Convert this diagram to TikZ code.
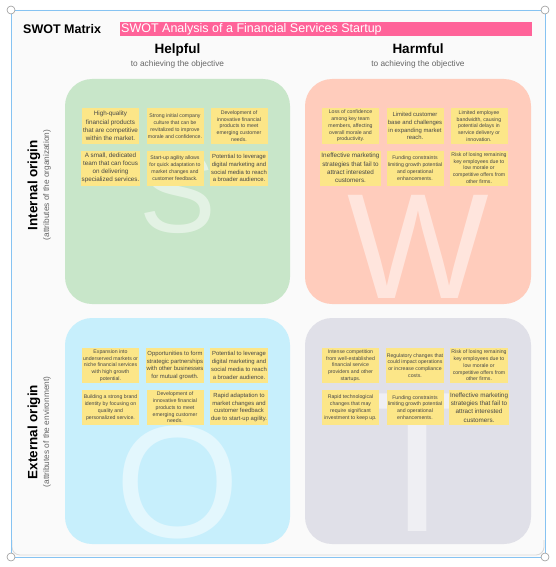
\documentclass[tikz,border=0pt]{standalone}
\usepackage{fontspec}
\setmainfont{Liberation Sans}
\definecolor{cardbg}{HTML}{FAFAFA}
\definecolor{framecol}{HTML}{86C3F2}
\definecolor{titlepink}{HTML}{FF6399}
\definecolor{notey}{HTML}{FCE688}
\definecolor{sgreen}{HTML}{C8E6C9}
\definecolor{wred}{HTML}{FFCCBC}
\definecolor{oblue}{HTML}{C7EFFC}
\definecolor{tgray}{HTML}{E0E0E8}
\newcommand\notebig{\fontsize{6.3}{8.2}\selectfont}
\newcommand\notemid{\fontsize{5.9}{7.8}\selectfont}
\newcommand\notesml{\fontsize{5.2}{6.8}\selectfont}
\tikzset{
  note/.style={fill=notey, minimum width=57pt, minimum height=35pt,
    inner sep=1pt, align=center, text=black!72},
  quad/.style={rounded corners=27pt},
  bigletter/.style={anchor=base, inner sep=0pt, text depth=0pt, text=white, text opacity=0.5,
    font=\fontsize{#1}{#1}\selectfont},
  head/.style={inner sep=0pt, font=\bfseries\fontsize{13.5}{16}\selectfont},
  sidehead/.style={rotate=90, inner sep=0pt, font=\bfseries\fontsize{13.5}{16}\selectfont},
  subhead/.style={inner sep=0pt, text=black!60, font=\fontsize{8.3}{10}\selectfont},
  handle/.style={draw=black!40, fill=white, line width=0.6pt}
}
\begin{document}
\begin{tikzpicture}[x=1pt, y=-1pt]
  \useasboundingbox (0,0) rectangle (555,567);
  \fill[cardbg, rounded corners=8pt] (11,10) rectangle (545,557);
  \draw[black!15, line width=0.8pt, rounded corners=8pt] (12,540) -- (12,555) -- (544,555) -- (544,540);
  \draw[framecol, line width=0.8pt] (11,10) rectangle (545,557);
  \foreach \hx/\hy in {11/10, 545/10, 11/557, 545/557}
    \draw[handle] (\hx,\hy) circle (4pt);

  \node[anchor=west, inner sep=0pt, font=\bfseries\fontsize{12.5}{15}\selectfont] (ttl) at (23,29) {SWOT Matrix};
  \fill[titlepink] (120,22.5) rectangle (532,36);
  \node[anchor=west, inner sep=0pt, text=white, font=\fontsize{12.5}{15}\selectfont] (sub) at (121,29.5)
    {SWOT Analysis of a Financial Services Startup};

  \node[head, anchor=base] (help) at (177.5,53.5) {Helpful};
  \node[subhead, anchor=base] (helpsub) at (177.5,67) {to achieving the objective};
  \node[head, anchor=base] (harm) at (418,53.5) {Harmful};
  \node[subhead, anchor=base] (harmsub) at (418,67) {to achieving the objective};

  \node[sidehead] (intl) at (34,185) {Internal origin};
  \node[subhead, rotate=90] (intlsub) at (47,185) {(attributes of the organization)};
  \node[sidehead] (extl) at (34,432) {External origin};
  \node[subhead, rotate=90] (extlsub) at (47,432) {(attributes of the environment)};

  \fill[sgreen, quad] (65,79) rectangle (290,304);
  \fill[wred, quad] (305,79) rectangle (531,304);
  \fill[oblue, quad] (65,318) rectangle (290,544);
  \fill[tgray, quad] (305,318) rectangle (531,544);

  \node[bigletter=115] (bigS) at (177.5,232) {S};
  \node[bigletter=150] (bigW) at (418,298) {W};
  \node[bigletter=160] (bigO) at (177.5,537) {O};
  \node[bigletter=200] (bigT) at (418,531) {T};

  \node[note, font=\notebig] (s1) at (110.5,126) {High-quality\\financial products\\that are competitive\\within the market.};
  \node[note, font=\notesml] (s2) at (175,126) {Strong initial company\\culture that can be\\revitalized to improve\\morale and confidence.};
  \node[note, font=\notesml] (s3) at (239,126) {Development of\\innovative financial\\products to meet\\emerging customer\\needs.};
  \node[note, font=\notebig] (s4) at (110.5,168) {A small, dedicated\\team that can focus\\on delivering\\specialized services.};
  \node[note, font=\notesml] (s5) at (175,168) {Start-up agility allows\\for quick adaptation to\\market changes and\\customer feedback.};
  \node[note, font=\notemid] (s6) at (239,168) {Potential to leverage\\digital marketing and\\social media to reach\\a broader audience.};

  \node[note, font=\notesml] (w1) at (350.5,126) {Loss of confidence\\among key team\\members, affecting\\overall morale and\\productivity.};
  \node[note, font=\notemid] (w2) at (415,126) {Limited customer\\base and challenges\\in expanding market\\reach.};
  \node[note, font=\notesml] (w3) at (479,126) {Limited employee\\bandwidth, causing\\potential delays in\\service delivery or\\innovation.};
  \node[note, font=\notebig] (w4) at (350.5,168) {Ineffective marketing\\strategies that fail to\\attract interested\\customers.};
  \node[note, font=\notesml] (w5) at (415,168) {Funding constraints\\limiting growth potential\\and operational\\enhancements.};
  \node[note, font=\notesml] (w6) at (479,168) {Risk of losing remaining\\key employees due to\\low morale or\\competitive offers from\\other firms.};

  \node[note, font=\notesml] (o1) at (110.5,365.5) {Expansion into\\underserved markets or\\niche financial services\\with high growth\\potential.};
  \node[note, font=\notemid] (o2) at (175,365.5) {Opportunities to form\\strategic partnerships\\with other businesses\\for mutual growth.};
  \node[note, font=\notemid] (o3) at (239,365.5) {Potential to leverage\\digital marketing and\\social media to reach\\a broader audience.};
  \node[note, font=\notesml] (o4) at (110.5,407.5) {Building a strong brand\\identity by focusing on\\quality and\\personalized service.};
  \node[note, font=\notesml] (o5) at (175,407.5) {Development of\\innovative financial\\products to meet\\emerging customer\\needs.};
  \node[note, font=\notemid] (o6) at (239,407.5) {Rapid adaptation to\\market changes and\\customer feedback\\due to start-up agility.};

  \node[note, font=\notesml] (t1) at (350.5,365.5) {Intense competition\\from well-established\\financial service\\providers and other\\startups.};
  \node[note, font=\notesml] (t2) at (415,365.5) {Regulatory changes that\\could impact operations\\or increase compliance\\costs.};
  \node[note, font=\notesml] (t3) at (479,365.5) {Risk of losing remaining\\key employees due to\\low morale or\\competitive offers from\\other firms.};
  \node[note, font=\notesml] (t4) at (350.5,407.5) {Rapid technological\\changes that may\\require significant\\investment to keep up.};
  \node[note, font=\notesml] (t5) at (415,407.5) {Funding constraints\\limiting growth potential\\and operational\\enhancements.};
  \node[note, font=\notebig] (t6) at (479,407.5) {Ineffective marketing\\strategies that fail to\\attract interested\\customers.};
\end{tikzpicture}
\end{document}
